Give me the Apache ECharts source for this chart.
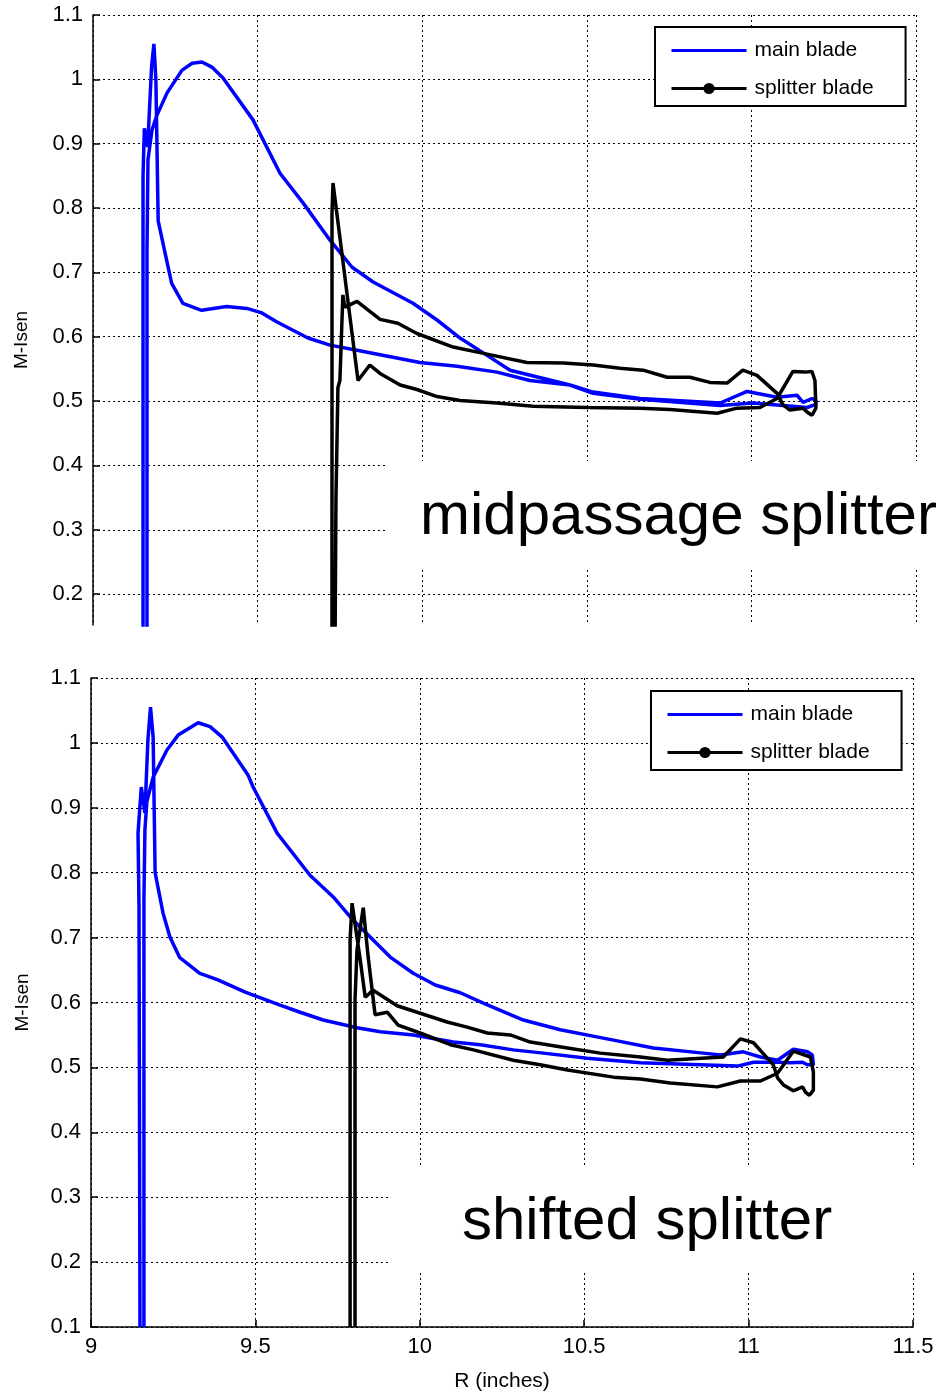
<!DOCTYPE html>
<html>
<head>
<meta charset="utf-8">
<script src="https://cdn.jsdelivr.net/npm/echarts@6/dist/echarts.min.js"></script>
<style>
html, body { margin: 0; padding: 0; background: #fff; }
#chart { width: 941px; height: 1397px; }
</style>
</head>
<body>
<div id="chart"></div>
<script>
// R (inches), M-Isen pairs
var midMainBlade = [
  [9.152, 0.10], [9.152, 0.85], [9.156, 0.924], [9.166, 0.895], [9.178, 1.02], [9.185, 1.055],
  [9.191, 1.0], [9.198, 0.78], [9.219, 0.73], [9.239, 0.683], [9.273, 0.652], [9.33, 0.641],
  [9.406, 0.647], [9.467, 0.644], [9.513, 0.637], [9.559, 0.623], [9.653, 0.598], [9.72, 0.587],
  [9.802, 0.579], [9.993, 0.56], [10.106, 0.554], [10.227, 0.545], [10.327, 0.532], [10.449, 0.525],
  [10.519, 0.514], [10.662, 0.504], [10.905, 0.497], [10.987, 0.515], [11.078, 0.506], [11.139, 0.509],
  [11.157, 0.498], [11.184, 0.504], [11.196, 0.501], [11.196, 0.495], [11.169, 0.49], [11.005, 0.497],
  [10.905, 0.493], [10.662, 0.503], [10.519, 0.512], [10.449, 0.525], [10.267, 0.548], [10.197, 0.571],
  [10.115, 0.598], [10.045, 0.626], [9.972, 0.652], [9.851, 0.685], [9.787, 0.708], [9.72, 0.75],
  [9.638, 0.808], [9.568, 0.854], [9.486, 0.937], [9.395, 1.002], [9.361, 1.019], [9.331, 1.027],
  [9.301, 1.025], [9.27, 1.014], [9.225, 0.979], [9.194, 0.944], [9.179, 0.921], [9.167, 0.875],
  [9.164, 0.735], [9.164, 0.10]
];
var midSplitterBlade = [
  [9.726, 0.10], [9.726, 0.792], [9.729, 0.839], [9.805, 0.532], [9.841, 0.556], [9.872, 0.543],
  [9.933, 0.525], [9.984, 0.518], [10.045, 0.507], [10.115, 0.501], [10.227, 0.497], [10.337, 0.492],
  [10.501, 0.49], [10.662, 0.489], [10.753, 0.487], [10.896, 0.481], [10.956, 0.489], [11.026, 0.49],
  [11.078, 0.504], [11.126, 0.546], [11.163, 0.545], [11.184, 0.546], [11.193, 0.532], [11.196, 0.489],
  [11.184, 0.478], [11.169, 0.483], [11.157, 0.489], [11.117, 0.486], [11.096, 0.494], [11.078, 0.512],
  [11.017, 0.54], [10.974, 0.548], [10.926, 0.528], [10.874, 0.529], [10.813, 0.537], [10.744, 0.537],
  [10.671, 0.548], [10.601, 0.551], [10.519, 0.556], [10.428, 0.559], [10.318, 0.56], [10.197, 0.573],
  [10.094, 0.584], [9.984, 0.605], [9.926, 0.621], [9.872, 0.627], [9.802, 0.655], [9.765, 0.646],
  [9.759, 0.665], [9.75, 0.532], [9.744, 0.521], [9.738, 0.346], [9.735, 0.10]
];
var shiftMainBlade = [
  [9.149, 0.10], [9.146, 0.75], [9.143, 0.861], [9.153, 0.932], [9.164, 0.892], [9.173, 1.004],
  [9.181, 1.055], [9.189, 1.009], [9.195, 0.8], [9.219, 0.738], [9.24, 0.701], [9.27, 0.669],
  [9.331, 0.645], [9.386, 0.635], [9.469, 0.616], [9.575, 0.596], [9.636, 0.585], [9.706, 0.573],
  [9.809, 0.561], [9.88, 0.555], [9.98, 0.55], [10.102, 0.539], [10.184, 0.535], [10.284, 0.527],
  [10.376, 0.522], [10.509, 0.514], [10.671, 0.507], [10.966, 0.502], [11.015, 0.508], [11.088, 0.508],
  [11.127, 0.507], [11.164, 0.508], [11.179, 0.504], [11.197, 0.504], [11.194, 0.519], [11.179, 0.524],
  [11.136, 0.528], [11.088, 0.511], [11.036, 0.516], [10.984, 0.524], [10.914, 0.519], [10.862, 0.522],
  [10.71, 0.53], [10.589, 0.542], [10.427, 0.558], [10.315, 0.573], [10.193, 0.599], [10.123, 0.615],
  [10.047, 0.627], [9.98, 0.645], [9.91, 0.67], [9.797, 0.727], [9.736, 0.763], [9.666, 0.796],
  [9.606, 0.835], [9.566, 0.861], [9.493, 0.932], [9.478, 0.95], [9.399, 1.009], [9.362, 1.025],
  [9.326, 1.031], [9.265, 1.012], [9.231, 0.989], [9.189, 0.947], [9.17, 0.91], [9.164, 0.866],
  [9.161, 0.758], [9.161, 0.10]
];
var shiftSplitterBlade = [
  [9.788, 0.10], [9.788, 0.696], [9.794, 0.753], [9.819, 0.665], [9.834, 0.608], [9.858, 0.619],
  [9.931, 0.595], [9.992, 0.585], [10.083, 0.57], [10.144, 0.562], [10.205, 0.553], [10.275, 0.55],
  [10.336, 0.539], [10.449, 0.53], [10.549, 0.522], [10.671, 0.516], [10.753, 0.511], [10.923, 0.516],
  [10.975, 0.544], [11.015, 0.538], [11.075, 0.504], [11.088, 0.484], [11.106, 0.473], [11.136, 0.464],
  [11.164, 0.47], [11.173, 0.462], [11.185, 0.457], [11.197, 0.465], [11.197, 0.493], [11.188, 0.516],
  [11.136, 0.525], [11.088, 0.491], [11.036, 0.479], [10.975, 0.479], [10.905, 0.47], [10.762, 0.476],
  [10.671, 0.482], [10.589, 0.485], [10.449, 0.496], [10.366, 0.504], [10.284, 0.511], [10.163, 0.527],
  [10.093, 0.535], [10.001, 0.553], [9.934, 0.565], [9.901, 0.585], [9.864, 0.581], [9.843, 0.67],
  [9.828, 0.746], [9.809, 0.681], [9.803, 0.604], [9.803, 0.10]
];

var yTicksTop = [0.2, 0.3, 0.4, 0.5, 0.6, 0.7, 0.8, 0.9, 1, 1.1];
// legend entries: main blade is a plain line, splitter blade keeps its dot marker
var legendItems = [
  { name: 'main blade', icon: 'path://M0,0 L75,0 L75,3 L0,3 Z' },
  { name: 'splitter blade' }
];

var FONT = 'Liberation Sans, Arial, sans-serif';
var gridDash = { color: '#000', width: 1, type: [2, 3] };

var chart = echarts.init(document.getElementById('chart'), null, { renderer: 'canvas' });

function xAxisFor(gridIndex, showLabels) {
  return {
    type: 'value', gridIndex: gridIndex, min: 9, max: 11.5, interval: 0.5,
    axisLine: { show: showLabels, onZero: false, lineStyle: { color: '#000', width: 1.5 } },
    axisTick: { show: showLabels, inside: true, length: 7, lineStyle: { color: '#000', width: 1.5 } },
    axisLabel: { show: showLabels, color: '#000', fontSize: 22, fontFamily: FONT, margin: 9 },
    splitLine: { show: true, lineStyle: gridDash },
    name: showLabels ? 'R (inches)' : '', nameLocation: 'middle', nameGap: 44,
    nameTextStyle: { color: '#000', fontSize: 21, fontFamily: FONT }
  };
}

function legendAt(left, top) {
  return {
    data: legendItems, orient: 'vertical', left: left, top: top,
    itemWidth: 75, itemHeight: 14, itemGap: 17, padding: [13, 32, 7, 15],
    borderColor: '#000', borderWidth: 2, backgroundColor: '#fff',
    lineStyle: { width: 3 },
    textStyle: { color: '#000', fontSize: 21, fontFamily: FONT, padding: [0, 0, 0, 3] },
    selectedMode: false
  };
}

var option = {
  animation: false,
  backgroundColor: '#fff',
  grid: [
    { left: 93, top: 15, width: 823, height: 610 },
    { left: 91, top: 678, width: 822, height: 649 }
  ],
  xAxis: [xAxisFor(0, false), xAxisFor(1, true)],
  yAxis: [
    {
      type: 'value', gridIndex: 0, min: 0.152, max: 1.1,
      axisLine: { show: true, onZero: false, lineStyle: { color: '#000', width: 1.5 } },
      axisTick: { show: true, inside: true, length: 7, customValues: yTicksTop, lineStyle: { color: '#000', width: 1.5 } },
      axisLabel: { color: '#000', fontSize: 22, fontFamily: FONT, margin: 10, customValues: yTicksTop },
      splitLine: { show: true, lineStyle: gridDash }
    },
    {
      type: 'value', gridIndex: 1, min: 0.1, max: 1.1, interval: 0.1,
      axisLine: { show: true, onZero: false, lineStyle: { color: '#000', width: 1.5 } },
      axisTick: { show: true, inside: true, length: 7, lineStyle: { color: '#000', width: 1.5 } },
      axisLabel: { color: '#000', fontSize: 22, fontFamily: FONT, margin: 10,
        formatter: function (v) { return String(Math.round(v * 10) / 10); } },
      splitLine: { show: true, lineStyle: gridDash },
      name: 'M-Isen', nameLocation: 'middle', nameGap: 59,
      nameTextStyle: { color: '#000', fontSize: 19, fontFamily: FONT }
    }
  ],
  legend: [legendAt(655, 27), legendAt(651, 691)],
  graphic: [
    { type: 'rect', z: 50, shape: { x: 386, y: 461, width: 540, height: 106 }, style: { fill: '#fff' } },
    { type: 'text', z: 51, x: 420, y: 517,
      style: { text: 'midpassage splitter', font: '60px ' + FONT, fill: '#000', textAlign: 'left', textVerticalAlign: 'middle' } },
    { type: 'rect', z: 50, shape: { x: 389, y: 1168, width: 537, height: 104 }, style: { fill: '#fff' } },
    { type: 'text', z: 51, x: 462, y: 1222,
      style: { text: 'shifted splitter', font: '60px ' + FONT, fill: '#000', textAlign: 'left', textVerticalAlign: 'middle' } },
    { type: 'text', z: 51, x: 22, y: 340, rotation: Math.PI / 2,
      style: { text: 'M-Isen', font: '19px ' + FONT, fill: '#000', textAlign: 'center', textVerticalAlign: 'middle' } }
  ],
  series: [
    { name: 'main blade', type: 'line', xAxisIndex: 0, yAxisIndex: 0, data: midMainBlade,
      symbol: 'none', lineStyle: { color: '#0000ff', width: 3.5 }, itemStyle: { color: '#0000ff' } },
    { name: 'splitter blade', type: 'line', xAxisIndex: 0, yAxisIndex: 0, data: midSplitterBlade,
      symbol: 'circle', symbolSize: 9, showSymbol: false, lineStyle: { color: '#000', width: 3.5 }, itemStyle: { color: '#000' } },
    { name: 'main blade', type: 'line', xAxisIndex: 1, yAxisIndex: 1, data: shiftMainBlade,
      symbol: 'none', lineStyle: { color: '#0000ff', width: 3.5 }, itemStyle: { color: '#0000ff' } },
    { name: 'splitter blade', type: 'line', xAxisIndex: 1, yAxisIndex: 1, data: shiftSplitterBlade,
      symbol: 'circle', symbolSize: 9, showSymbol: false, lineStyle: { color: '#000', width: 3.5 }, itemStyle: { color: '#000' } }
  ]
};

chart.setOption(option);
</script>
</body>
</html>
